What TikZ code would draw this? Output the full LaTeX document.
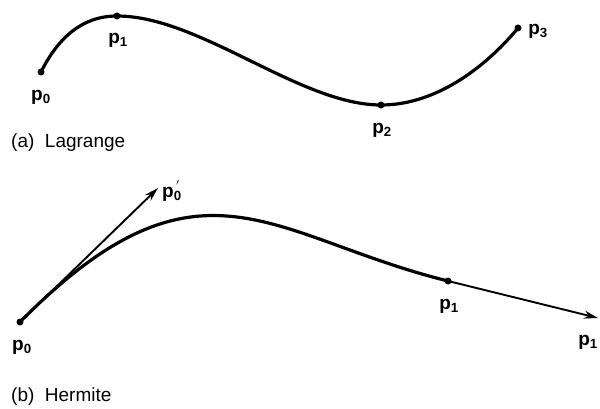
\documentclass[tikz,border=0pt]{standalone}
\usepackage{fontspec}
\setmainfont{Liberation Sans}
\usetikzlibrary{arrows.meta}
\begin{document}
\begin{tikzpicture}[x=1pt,y=-1pt,
  curve/.style={line width=3.2pt, line cap=round},
  tangent/.style={line width=1.9pt, -{Stealth[length=14pt,width=8pt]}},
  pt/.style={circle, fill=black, inner sep=0pt, minimum size=7pt},
  lbl/.style={font=\fontsize{19}{22}\selectfont\bfseries, inner sep=0pt},
  captext/.style={font=\fontsize{19}{22}\selectfont, anchor=west, inner sep=0pt}]
\useasboundingbox (0,0) rectangle (600,409);
% (a) Lagrange
\node[pt] (a0) at (41,72) {};
\node[pt] (a1) at (117,16) {};
\node[pt] (a2) at (381,105) {};
\node[pt] (a3) at (518,28) {};
\draw[curve] (a0.center) .. controls (58,38) and (82,16) .. (a1.center)
  .. controls (200,16) and (300,105) .. (a2.center)
  .. controls (440,105) and (490,62) .. (a3.center);
\node[lbl] (la0) at (41,97) {p\textsubscript{0}};
\node[lbl] (la1) at (118,40) {p\textsubscript{1}};
\node[lbl] (la2) at (382,130) {p\textsubscript{2}};
\node[lbl] (la3) at (538,31) {p\textsubscript{3}};
\node[captext] (capa) at (11,143) {(a)\ \ Lagrange};
% (b) Hermite
\node[pt] (b0) at (20,322) {};
\node[pt] (b1) at (448,281) {};
\coordinate (t0) at (158,188);
\coordinate (t1) at (598,318);
\draw[curve] (b0.center) .. controls (200,140) and (270,237) .. (b1.center);
\draw[tangent] (b0.center) -- (t0);
\draw[tangent] (b1.center) -- (t1);
\node[lbl] (lb0) at (22,347) {p\textsubscript{0}};
\node[lbl, anchor=west] (lt0) at (162,191) {p\textsubscript{0}\rlap{\textsuperscript{\kern-0.4em\normalfont$'$}}};
\node[lbl] (lb1) at (449,306) {p\textsubscript{1}};
\node[lbl, anchor=east] (lt1) at (598,342) {p\textsubscript{1}};
\node[captext] (capb) at (11,397) {(b)\ \ Hermite};
\end{tikzpicture}
\end{document}
